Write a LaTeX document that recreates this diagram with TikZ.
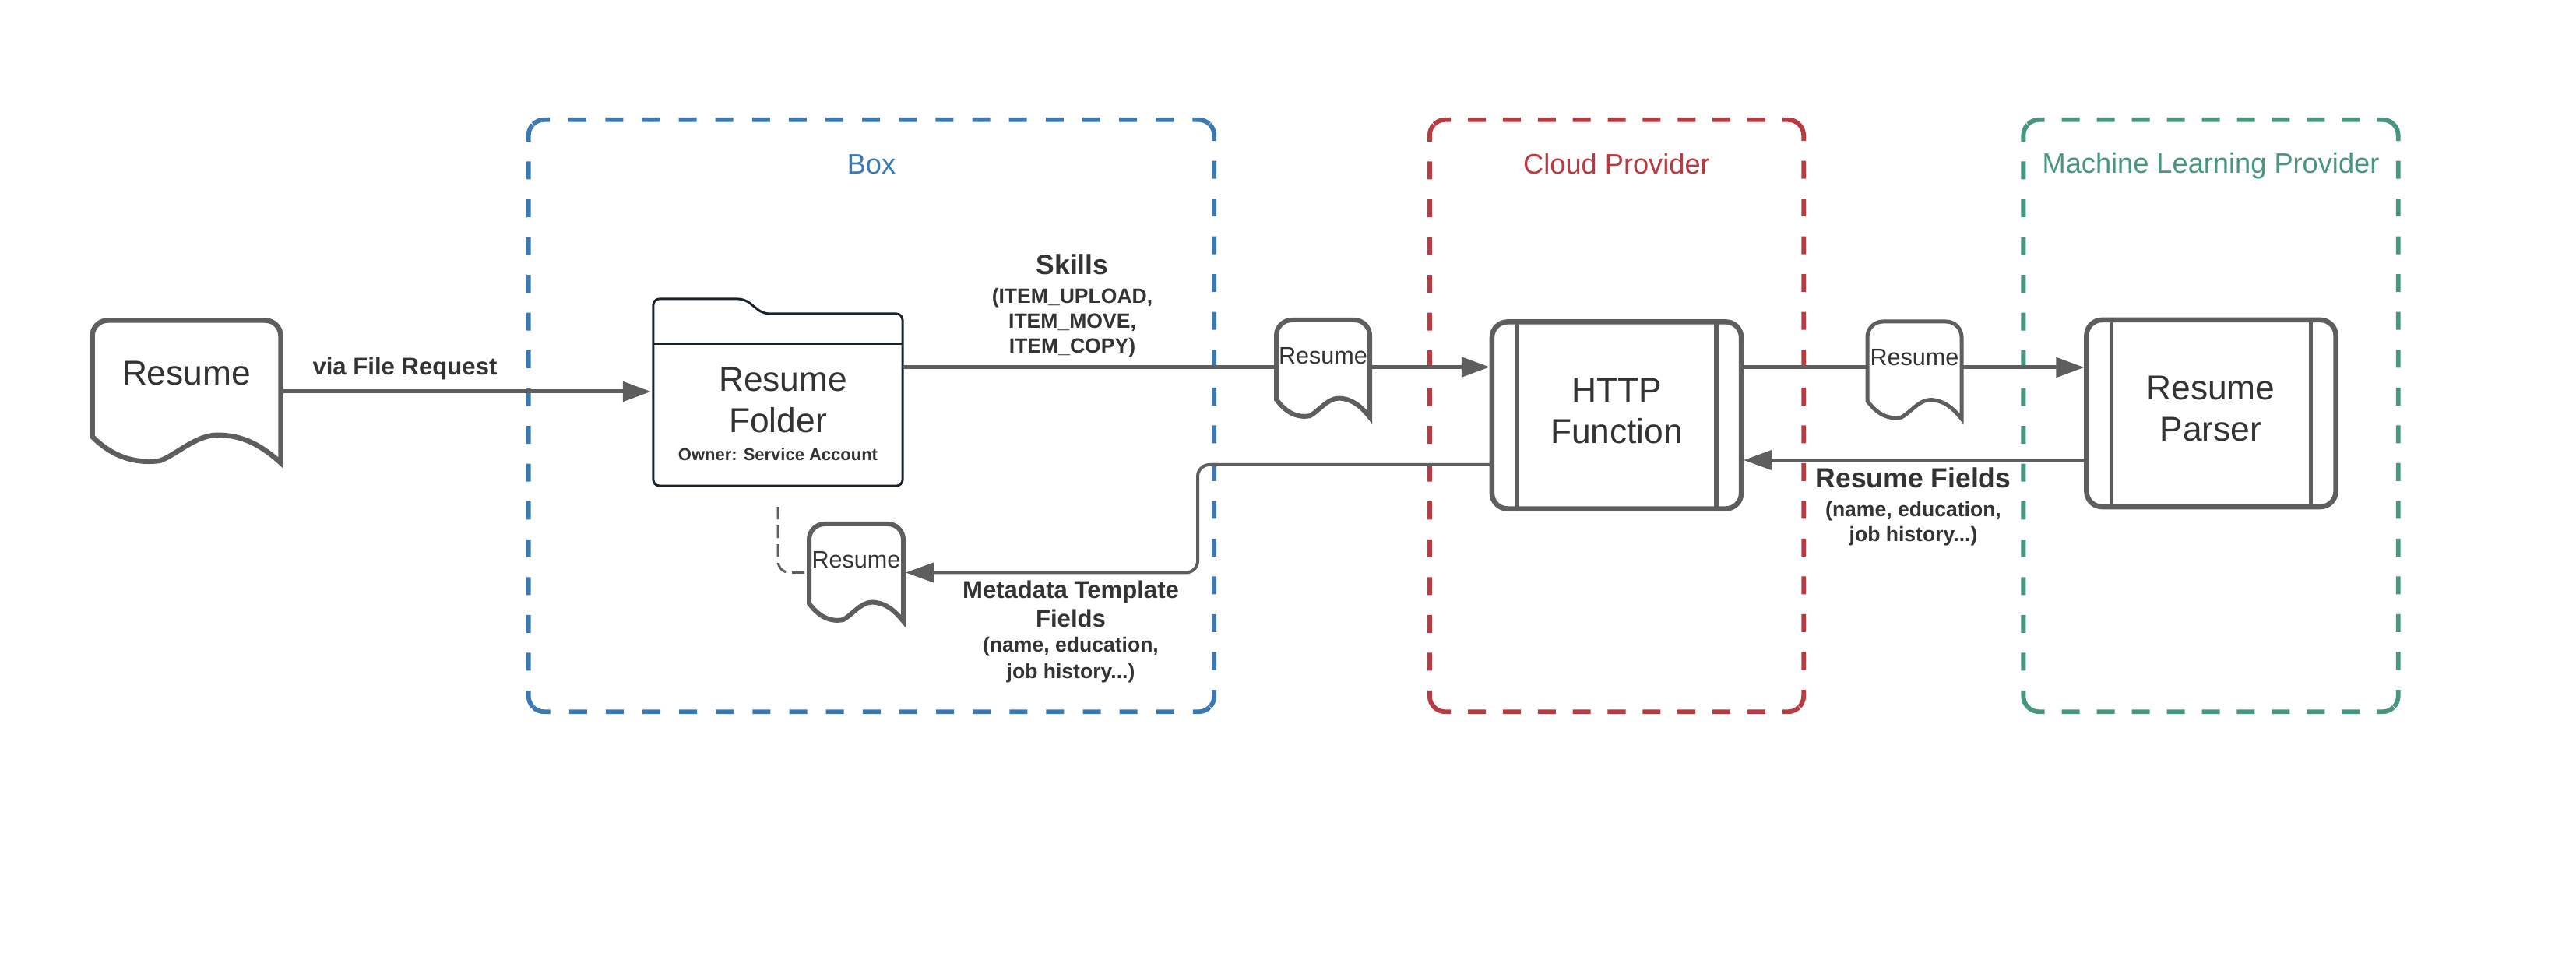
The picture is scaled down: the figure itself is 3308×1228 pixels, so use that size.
\documentclass[tikz,border=0pt]{standalone}
\usepackage{fontspec}
\setmainfont{Liberation Sans}
\usetikzlibrary{arrows.meta}

\definecolor{boxBlue}{HTML}{3A7AB3}
\definecolor{cloudRed}{HTML}{B93A40}
\definecolor{mlGreen}{HTML}{47967F}
\definecolor{lineGray}{HTML}{5E5E5E}
\definecolor{textGray}{HTML}{333333}
\definecolor{folderDark}{HTML}{1A2329}

\newcommand{\headfont}{\fontsize{10.1}{10.6}\bfseries\selectfont}
\newcommand{\metafont}{\fontsize{8.85}{10.5}\bfseries\selectfont}
\newcommand{\subfont}{\fontsize{7.55}{9.1}\bfseries\selectfont}

\tikzset{
    panelbox/.style={minimum height=7.6cm, inner sep=0, outer sep=0},
    paneltitle/.style={font=\fontsize{10.3}{12}\selectfont},
    procbox/.style={draw=lineGray, fill=white, line width=0.065cm, rounded corners=0.2cm, minimum width=3.2cm, minimum height=2.4cm, outer sep=0},
    flowline/.style={draw=lineGray, line width=#1, rounded corners=0.15cm, -{Triangle[length=0.36cm,width=0.25cm]}, shorten >=0.03cm},
    bigtext/.style={text=textGray, font=\fontsize{12.6}{15}\selectfont, align=center},
    smalltext/.style={text=textGray, font=\fontsize{8.7}{10}\selectfont, align=center},
    arrowtext/.style={text=textGray, align=center, inner sep=0, font=\subfont},
}

% name, x, y, width, height, text style, outline width
\newcommand{\resumedoc}[7]{
    \node[minimum width=#4*0.01cm, minimum height=#5*0.01cm, inner sep=0, outer sep=0] (#1) at (#2,#3) {};
    \begin{scope}[shift={(#1.north west)}, x={#4*0.01cm}, y={-#5*0.01cm}]
        \draw[draw=lineGray, fill=white, line width=#7] (0,.816) [rounded corners=0.2cm] -- (0,0) -- (1,0) [sharp corners] -- (1,1)
            .. controls (.9,.88) and (.8,.805) .. (.665,.805) .. controls (.55,.805) and (.45,.94) .. (.36,.985)
            .. controls (.22,1.01) and (.1,.95) .. (0,.816) -- cycle;
        \node[#6] (#1Text) at (.5,.37) {Resume};
    \end{scope}
}

% name, colour, width, height, gap across, gap down: one dashed stroke per side, solid round the corners
\newcommand{\panelframe}[6]{
    \begin{scope}[x=1cm, y=1cm, draw=#2, line width=0.058cm]
        \draw[dash pattern=on 0.23cm off #5cm] (#1.north west) ++(.0586,-.0586) arc[start angle=135, end angle=90, radius=.2] -- ++(#3-.4,0) arc[start angle=90, end angle=45, radius=.2];
        \draw[dash pattern=on 0.23cm off #6cm] (#1.north east) ++(-.0586,-.0586) arc[start angle=45, end angle=0, radius=.2] -- ++(0,-#4+.4) arc[start angle=0, end angle=-45, radius=.2];
        \draw[dash pattern=on 0.23cm off #5cm] (#1.south east) ++(-.0586,.0586) arc[start angle=-45, end angle=-90, radius=.2] -- ++(-#3+.4,0) arc[start angle=-90, end angle=-135, radius=.2];
        \draw[dash pattern=on 0.23cm off #6cm] (#1.south west) ++(.0586,.0586) arc[start angle=-135, end angle=-180, radius=.2] -- ++(0,#4-.4) arc[start angle=180, end angle=135, radius=.2];
    \end{scope}
}

\begin{document}
\begin{tikzpicture}[x=0.01cm, y=-0.01cm]
    \useasboundingbox (0,0) rectangle (3308,1228);

    % Draw the three provider areas
    \node[panelbox, minimum width=8.8cm] (boxPanel) at (1119,534) {};
    \node[panelbox, minimum width=4.8cm] (cloudPanel) at (2076,534) {};
    \node[panelbox, minimum width=4.81cm] (mlPanel) at (2839,534) {};
    \panelframe{boxPanel}{boxBlue}{8.8}{7.6}{.241}{.255}
    \panelframe{cloudPanel}{cloudRed}{4.8}{7.6}{.2184}{.255}
    \panelframe{mlPanel}{mlGreen}{4.81}{7.6}{.2194}{.255}
    \node[paneltitle, text=boxBlue] (boxTitle) at (1119,211) {Box};
    \node[paneltitle, text=cloudRed] (cloudTitle) at (2076,211) {Cloud Provider};
    \node[paneltitle, text=mlGreen] (mlTitle) at (2839,213) {Machine Learning Provider};

    % Draw the folder
    \node[minimum width=3.2cm, minimum height=2.4cm, inner sep=0, outer sep=0] (folder) at (999,504) {};
    \draw[draw=folderDark, fill=white, line width=0.03cm, rounded corners=0.08cm]
        (folder.north west) -- (956,384) -- (980,403) -- (1159,403) -- (folder.south east) -- (folder.south west) -- cycle;
    \draw[draw=folderDark, line width=0.03cm] (839,442) -- (1159,442);
    \node[bigtext] (folderName) at (999,514) {\hspace*{0.3em}Resume\\Folder};
    \node[arrowtext, font=\fontsize{6.25}{8}\bfseries\selectfont] (folderOwner) at (999,584) {Owner: Service Account};

    % Draw the two function boxes
    \node[procbox] (httpFn) at (2076,533.5) {};
    \node[procbox] (parserFn) at (2839.5,531) {};
    \foreach \n in {httpFn, parserFn} {
        \draw[draw=lineGray, line width=0.055cm] ([xshift=0.32cm]\n.north west) -- ([xshift=0.32cm]\n.south west);
        \draw[draw=lineGray, line width=0.055cm] ([xshift=-0.32cm]\n.north east) -- ([xshift=-0.32cm]\n.south east);
    }
    \node[bigtext] (httpName) at (2076,528) {HTTP\\Function};
    \node[bigtext] (parserName) at (2839,525) {Resume\\Parser};

    % Draw the resume documents
    \resumedoc{docSource}{239.5}{503}{242}{183}{bigtext}{0.065cm}
    \resumedoc{docSkill}{1699}{473.5}{120}{125}{smalltext}{0.06cm}
    \resumedoc{docParse}{2458.5}{475.5}{121}{125}{smalltext}{0.05cm}
    \resumedoc{docMeta}{1099.5}{735.5}{121}{125}{smalltext}{0.06cm}

    % Draw the arrows between the shapes
    \draw[flowline=0.05cm] (docSource.east) -- (docSource.east -| folder.west);
    \draw[draw=lineGray, line width=0.05cm] ([yshift=0.02cm]docSkill.west -| folder.east) -- ([yshift=0.02cm]docSkill.west);
    \draw[flowline=0.05cm] ([yshift=0.02cm]docSkill.east) -- ([yshift=0.02cm]docSkill.east -| httpFn.west);
    \draw[draw=lineGray, line width=0.05cm] ([yshift=0.035cm]docParse.west -| httpFn.east) -- ([yshift=0.035cm]docParse.west);
    \draw[flowline=0.05cm] ([yshift=0.035cm]docParse.east) -- ([yshift=0.035cm]docParse.east -| parserFn.west);
    \draw[flowline=0.04cm] (2679,591) coordinate (parserOut) -- (parserOut -| httpFn.east);
    \draw[flowline=0.04cm] (1916,597) coordinate (httpOut) -- (1538,597) -- (1538,735.5) -- (docMeta.east);
    \draw[draw=lineGray, line width=0.03cm, dash pattern=on 0.16cm off 0.08cm, rounded corners=0.15cm, shorten <=0.27cm]
        (folder.south) -- (folder.south |- docMeta.west) -- (docMeta.west);

    % Labels on the arrows
    \node[arrowtext, font=\fontsize{8.85}{11}\bfseries\selectfont] (fileRequest) at (520,473) {via File Request};
    \node[arrowtext] (skillsText) at (1377,392.5) {\headfont Skills\\[0.05cm] (ITEM\_UPLOAD,\\ ITEM\_MOVE,\\ ITEM\_COPY)};
    \node[arrowtext] (metaText) at (1375,811) {\metafont Metadata Template\\[0.05cm] \metafont Fields\\ (name, education,\\[0.02cm] job history...)};
    \node[arrowtext] (fieldsText) at (2457,651) {\headfont Resume Fields\\[0.05cm] (name, education,\\ job history...)};
\end{tikzpicture}
\end{document}
